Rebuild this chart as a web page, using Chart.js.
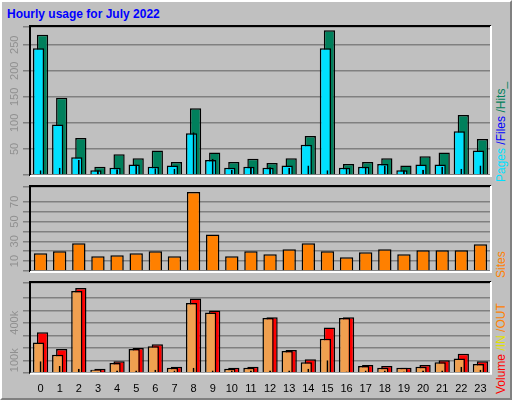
<!DOCTYPE html>
<html><head><meta charset="utf-8">
<script src="https://cdn.jsdelivr.net/npm/chart.js@4"></script>
<style>
body{margin:0;background:#fff}
#w{position:absolute;left:0;top:0;width:508px;height:396px;background:#c0c0c0;border-top:2px solid #fff;border-left:2px solid #fff;border-right:2px solid #808080;border-bottom:2px solid #808080;overflow:hidden;font-family:"Liberation Sans",Arial,sans-serif}
#t{position:absolute;left:5px;top:5px;font-weight:bold;font-size:12px;color:#0000ff}
canvas{position:absolute}
.r{position:absolute;transform:rotate(-90deg);transform-origin:left top;font-size:12px;white-space:nowrap}
</style></head><body>
<div id="w">
<div id="t">Hourly usage for July 2022</div>
<div style="position:absolute;left:0;top:23px;width:490px;height:160px"><canvas id="c1"></canvas></div>
<div style="position:absolute;left:0;top:183px;width:490px;height:96px"><canvas id="c2"></canvas></div>
<div style="position:absolute;left:0;top:279px;width:490px;height:117px"><canvas id="c3"></canvas></div>
<div class="r" style="left:492px;top:180px"><span style="color:#00e0ff">Pages</span> <span style="color:#0000ff">/Files</span> <span style="color:#00805c">/Hits_</span></div>
<div class="r" style="left:492px;top:276px"><span style="color:#ff8000">Sites</span></div>
<div class="r" style="left:492px;top:392px"><span style="color:#ff0000">Volume</span> <span style="color:#e0e000">/IN</span> <span style="color:#ff8000">/OUT</span></div>
</div>
<script>
const hours=["0","1","2","3","4","5","6","7","8","9","10","11","12","13","14","15","16","17","18","19","20","21","22","23"];
const hits=[269,148,71,16,40,32,47,25,128,43,25,31,23,32,75,278,21,25,32,18,36,43,115,69];
const pages=[243,97,34,9,14,20,16,18,80,29,14,16,14,18,58,243,14,16,21,9,20,20,84,47];
const files=[9,14,29,9,11,20,13,12,82,31,10,16,15,14,18,9,14,16,18,9,10,16,12,18];
const sites=[18,20,28,15,16,18,20,15,80,37,15,20,17,22,28,20,14,19,22,17,21,21,21,27];
const volume=[325,190,678,33,93,198,228,48,595,498,40,48,445,183,108,363,445,63,55,40,63,100,153,93];
const outK=[243,145,655,25,78,190,213,40,558,483,33,40,438,175,85,273,438,55,40,40,48,85,115,70];
const inK=[93,55,33,3,18,18,25,18,40,18,18,18,18,18,33,100,10,18,18,10,18,18,48,25];
const topTicks=[50,100,150,200,250];
const siteTicks=[10,30,50,70];
const volTicks=[100,400];

const R=a=>a.slice().reverse();
function plug(ticks,fmt){return{id:'p',afterDraw(c){const x=c.ctx,a=c.chartArea,y=c.scales.y;
x.save();x.fillStyle='#909090';x.font='11px "Liberation Sans",Arial';x.textAlign='center';x.textBaseline='middle';
ticks.forEach(v=>{x.save();x.translate(13,y.getPixelForValue(v));x.rotate(-Math.PI/2);x.fillText(fmt(v),0,0);x.restore();});
x.lineWidth=2;x.strokeStyle='#000';x.beginPath();x.moveTo(a.left-1,a.bottom+1);x.lineTo(a.left-1,a.top-1);x.lineTo(a.right+1,a.top-1);x.stroke();
x.strokeStyle='#fff';x.beginPath();x.moveTo(a.right+1,a.top-1);x.lineTo(a.right+1,a.bottom+1);x.lineTo(a.left-1,a.bottom+1);x.stroke();
x.restore();}}}
function ds(d,col,ord){return{data:R(d),backgroundColor:col,borderColor:'#000',borderWidth:1.5,barPercentage:2.8,categoryPercentage:0.42,order:ord,borderSkipped:'bottom'}}
function thin(d,col){return{data:R(d),backgroundColor:col,borderColor:'#000',borderWidth:1,grouped:false,barPercentage:0.1,categoryPercentage:1,order:0,borderSkipped:'bottom'}}
function mk(id,datasets,max,step,ticks,fmt,showX,padB){
 new Chart(document.getElementById(id),{type:'bar',data:{labels:R(hours),datasets},
 options:{animation:false,responsive:true,maintainAspectRatio:false,events:[],
 layout:{padding:{left:21,right:2,top:2,bottom:padB}},
 plugins:{legend:{display:false},tooltip:{enabled:false}},
 scales:{x:{reverse:true,grid:{display:false},border:{display:false},ticks:{display:showX,color:'#000',font:{size:11,family:'"Liberation Sans",Arial'},padding:2,maxRotation:0}},
 y:{min:0,max:max,grid:{color:'#808080',lineWidth:1.5},border:{display:false},ticks:{display:false,stepSize:step}}}},
 plugins:[plug(ticks,fmt)]});}
mk('c1',[ds(hits,'#00805c',2),ds(pages,'#00e0ff',1),thin(files,'#0000ff')],284,50,topTicks,v=>v,false,2);
mk('c2',[{data:R(sites),backgroundColor:'#ff8000',borderColor:'#000',borderWidth:1.5,barPercentage:0.7,categoryPercentage:1}],85,10,siteTicks,v=>v,false,2);
mk('c3',[ds(volume,'#ff0000',2),ds(outK,'#f0a050',1),thin(inK,'#e0e000')],718,100,volTicks,v=>v+'k',true,0);
</script></body></html>
